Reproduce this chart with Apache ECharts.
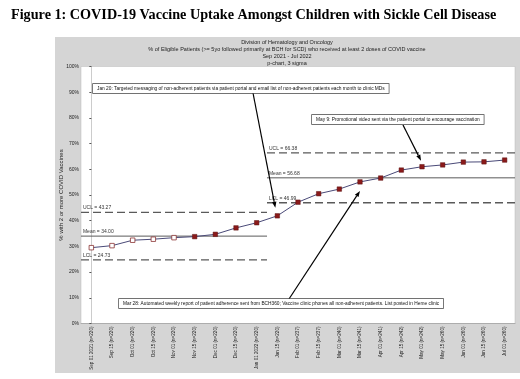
<!doctype html>
<html>
<head>
    <meta charset="utf-8">
    <title>COVID-19 Vaccine Uptake</title>
    <script src="https://cdn.jsdelivr.net/npm/echarts@6/dist/echarts.min.js"></script>
</head>
<body style="margin:0;padding:0;background:#fff">
    <div id="tb" style="width:520px;height:379px"></div>
    <script>
        // 数据
        var categories = ['Sep 01 2021 (n=220)', 'Sep 15 (n=220)', 'Oct 01 (n=220)', 'Oct 15 (n=220)', 'Nov 01 (n=220)',
            'Nov 15 (n=220)', 'Dec 01 (n=220)', 'Dec 15 (n=220)', 'Jan 01 2022 (n=220)', 'Jan 15 (n=220)',
            'Feb 01 (n=237)', 'Feb 15 (n=237)', 'Mar 01 (n=240)', 'Mar 15 (n=241)', 'Apr 01 (n=241)',
            'Apr 15 (n=242)', 'May 01 (n=242)', 'May 15 (n=260)', 'Jun 01 (n=260)', 'Jun 15 (n=260)', 'Jul 01 (n=260)'];
        var uptake = [29.5, 30.3, 32.4, 32.8, 33.4, 33.8, 34.7, 37.2, 39.2, 41.9,
            47.2, 50.5, 52.3, 55.1, 56.6, 59.7, 61.0, 61.7, 62.8, 62.9, 63.6];
        // 控制限 (两个阶段)
        var phaseEdges = [-0.5, 8.5, 20.5];
        var ucl = [43.27, 66.38];
        var mean = [34.00, 56.68];
        var lcl = [24.73, 46.99];
        var yTicks = [0, 10, 20, 30, 40, 50, 60, 70, 80, 90, 100];

        var chart = echarts.init(document.getElementById('tb'));
        var font = 'Liberation Sans';

        var pointData = uptake.map(function (v, i) {
            // 前5个点为空心
            if (i < 5) {
                return { value: v, itemStyle: { color: '#fff', borderColor: '#8a3434', borderWidth: 0.8 } };
            }
            return v;
        });

        function limitSeries(name, vals, dashed) {
            var out = [];
            for (var p = 0; p < vals.length; p++) {
                out.push({
                    type: 'line',
                    xAxisIndex: 1,
                    silent: true,
                    symbol: 'circle',
                    symbolSize: 0.1,
                    itemStyle: { color: '#555' },
                    lineStyle: { color: '#5a5a5a', width: dashed ? 1.3 : 1, type: dashed ? [8, 4] : 'solid' },
                    data: [
                        {
                            value: [phaseEdges[p], vals[p]],
                            label: {
                                show: true, position: [2, -2], align: 'left', verticalAlign: 'bottom',
                                fontSize: 5, fontFamily: font, color: '#333',
                                formatter: name + ' = ' + vals[p].toFixed(2)
                            }
                        },
                        [phaseEdges[p + 1], vals[p]]
                    ],
                    z: 1
                });
            }
            return out;
        }

        var series = [].concat(
            limitSeries('UCL', ucl, true),
            limitSeries('Mean', mean, false),
            limitSeries('LCL', lcl, true),
            [{
                type: 'line',
                data: pointData,
                symbol: 'rect',
                symbolSize: 4.5,
                lineStyle: { color: '#4a4a78', width: 1 },
                itemStyle: { color: '#8b1a1a', borderColor: '#5a1010', borderWidth: 0.5 },
                z: 3
            }]
        );

        chart.setOption({
            animation: false,
            title: {
                text: 'Figure 1: COVID-19 Vaccine Uptake Amongst Children with Sickle Cell Disease',
                left: 6, top: 3,
                textStyle: { fontFamily: 'Liberation Serif', fontWeight: 'bold', fontSize: 14.2, color: '#000' }
            },
            grid: {
                left: 81, right: 5, top: 66.5, bottom: 55.5,
                show: true, backgroundColor: '#fff', borderColor: '#bbb', borderWidth: 0.5
            },
            xAxis: [{
                type: 'category',
                data: categories,
                boundaryGap: true,
                axisLine: { lineStyle: { color: '#888', width: 0.5 } },
                axisTick: { alignWithLabel: true, length: 2, lineStyle: { color: '#555' } },
                axisLabel: { rotate: 90, fontSize: 4.6, fontFamily: font, color: '#222', margin: 3 }
            }, {
                type: 'value',
                min: phaseEdges[0],
                max: phaseEdges[phaseEdges.length - 1],
                show: false
            }],
            yAxis: {
                type: 'value',
                min: yTicks[0], max: yTicks[yTicks.length - 1], interval: 10,
                name: '% with 2 or more COVID Vaccines',
                nameLocation: 'middle',
                nameGap: 17,
                nameMoveOverlap: false,
                nameTextStyle: { fontSize: 6, fontFamily: font, color: '#222' },
                axisLine: { show: true, lineStyle: { color: '#999', width: 0.5 } },
                axisTick: { show: true, length: 2, lineStyle: { color: '#555' } },
                splitLine: { show: false },
                axisLabel: { fontSize: 5, fontFamily: font, color: '#222', margin: 2, formatter: '{value}%' }
            },
            graphic: [
                { type: 'rect', z: -1, shape: { x: 55, y: 37, width: 465, height: 336 }, style: { fill: '#d5d5d5' } },
                { type: 'text', x: 287, y: 42, style: { text: 'Division of Hematology and Oncology', align: 'center', verticalAlign: 'middle', font: '5.5px ' + font, fill: '#222' } },
                { type: 'text', x: 287, y: 49, style: { text: '% of Eligible Patients (>= 5yo followed primarily at BCH for SCD) who received at least 2 doses of COVID vaccine', align: 'center', verticalAlign: 'middle', font: '5.5px ' + font, fill: '#222' } },
                { type: 'text', x: 287, y: 56, style: { text: 'Sep 2021 - Jul 2022', align: 'center', verticalAlign: 'middle', font: '5.5px ' + font, fill: '#222' } },
                { type: 'text', x: 287, y: 63, style: { text: 'p-chart, 3 sigma', align: 'center', verticalAlign: 'middle', font: '5.5px ' + font, fill: '#222' } }
            ],
            series: series
        });

        // 注释框和箭头
        var notes = [
            { text: 'Jan 20: Targeted messaging of non-adherent patients via patient portal and email list of non-adherent patients each month to clinic MDs', x: 93, y: 84, from: [253, 93], idx: 9, off: [-2, -8] },
            { text: 'May 9: Promotional video sent via the patient portal to encourage vaccination', x: 312, y: 115, from: [403, 125], idx: 16, off: [-1, -6] },
            { text: 'Mar 28: Automated weekly report of patient adherence sent from BCH360; Vaccine clinic phones all non-adherent patients. List posted in Heme clinic', x: 119, y: 299, from: [289, 299], idx: 13, off: [0, 9] }
        ];
        var g = chart.getOption().graphic[0].elements.slice();
        notes.forEach(function (n) {
            g.push({
                type: 'text', x: n.x, y: n.y, z: 10,
                style: {
                    text: n.text, font: '4.8px ' + font, fill: '#111',
                    backgroundColor: '#fff', borderColor: '#444', borderWidth: 0.7, padding: [2, 4, 2, 4]
                }
            });
            var pt = chart.convertToPixel({ xAxisIndex: 0, yAxisIndex: 0 }, [n.idx, uptake[n.idx]]);
            var x1 = n.from[0], y1 = n.from[1];
            var x2 = pt[0] + n.off[0], y2 = pt[1] + n.off[1];
            var ang = Math.atan2(y2 - y1, x2 - x1);
            var L = 6, W = 2.2;
            var bx = x2 - L * Math.cos(ang), by = y2 - L * Math.sin(ang);
            g.push({ type: 'line', z: 9, shape: { x1: x1, y1: y1, x2: bx, y2: by }, style: { stroke: '#000', lineWidth: 1.2 } });
            g.push({
                type: 'polygon', z: 9,
                shape: { points: [[x2, y2], [bx + W * Math.sin(ang), by - W * Math.cos(ang)], [bx - W * Math.sin(ang), by + W * Math.cos(ang)]] },
                style: { fill: '#000' }
            });
        });
        chart.setOption({ graphic: g }, { replaceMerge: ['graphic'] });
    </script>
</body>
</html>
